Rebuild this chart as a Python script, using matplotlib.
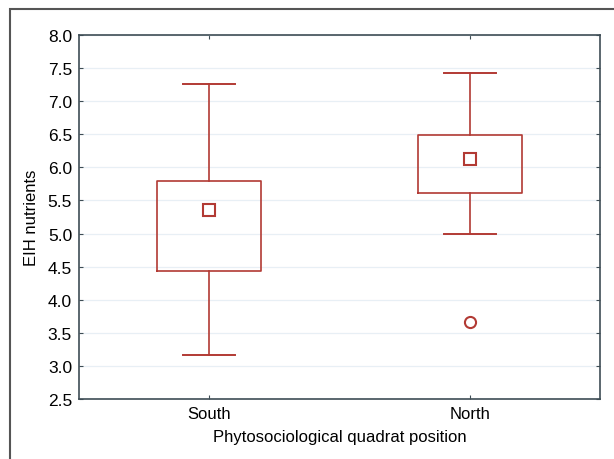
import matplotlib
matplotlib.use("Agg")
import matplotlib.pyplot as plt
from matplotlib.patches import Rectangle

plt.rcParams['font.family'] = ['Liberation Sans', 'DejaVu Sans']

# values
groups = ["South", "North"]
whisker_low = [3.17, 5.00]
box_low = [4.43, 5.62]
centre = [5.36, 6.13]
box_high = [5.79, 6.49]
whisker_high = [7.26, 7.42]
outliers = [[], [3.67]]

red = "#b23a34"
spine_col = "#3e4d55"

stats = []
for i, name in enumerate(groups):
    stats.append({
        "label": name,
        "whislo": whisker_low[i],
        "q1": box_low[i],
        "med": centre[i],
        "mean": centre[i],
        "q3": box_high[i],
        "whishi": whisker_high[i],
        "fliers": outliers[i],
    })

fig = plt.figure(figsize=(6.14, 4.6), dpi=100)
ax = fig.add_axes([79 / 614, 1 - 400 / 460, 521 / 614, 364 / 460])

ax.bxp(stats, positions=[1, 2], widths=0.4, capwidths=0.2,
       showmeans=True,
       boxprops=dict(color=red, linewidth=1.2),
       whiskerprops=dict(color=red, linewidth=1.2),
       capprops=dict(color=red, linewidth=1.4),
       medianprops=dict(linewidth=0),
       meanprops=dict(marker="s", markersize=8, markerfacecolor="white",
                      markeredgecolor=red, markeredgewidth=1.5),
       flierprops=dict(marker="o", markersize=8, markerfacecolor="white",
                       markeredgecolor=red, markeredgewidth=1.5))

ax.set_xlim(0.5, 2.5)
ax.set_ylim(2.5, 8.0)
ax.set_yticks([2.5 + 0.5 * k for k in range(12)])
ax.set_yticklabels([f"{2.5 + 0.5 * k:.1f}" for k in range(12)], fontsize=12.5)
ax.set_xticks([1, 2])
ax.set_xticklabels(groups, fontsize=12)
ax.tick_params(direction="in", length=3, top=True, right=True,
               color=spine_col, pad=5)
ax.yaxis.grid(True, linestyle="-", color="#e8eff5", linewidth=0.9)
ax.set_axisbelow(True)
for s in ax.spines.values():
    s.set_color(spine_col)
    s.set_linewidth(1.2)

ax.set_ylabel("EIH nutrients", fontsize=12, labelpad=6)
ax.set_xlabel("Phytosociological quadrat position", fontsize=12, labelpad=6)

# outer frame (only left and top show inside the picture)
fig.patches.append(Rectangle((10 / 614, -0.05), 1.2, 1 - 10 / 460 + 0.05,
                             transform=fig.transFigure, fill=False,
                             edgecolor="#555555", linewidth=1.5))

fig.savefig("out.png", dpi=100)
